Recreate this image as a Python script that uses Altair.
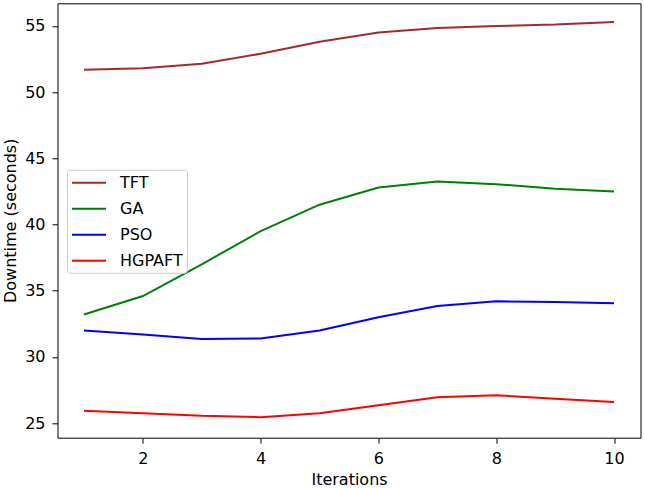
import altair as alt
import pandas as pd

# Downtime per iteration for each fault-tolerance method
iterations = [1, 2, 3, 4, 5, 6, 7, 8, 9, 10]
methods = ["TFT", "GA", "PSO", "HGPAFT"]
tft = [51.7, 51.8, 52.15, 52.9, 53.8, 54.5, 54.85, 55.0, 55.1, 55.3]
ga = [33.2, 34.6, 37.0, 39.5, 41.5, 42.8, 43.25, 43.05, 42.7, 42.5]
pso = [32.0, 31.7, 31.35, 31.4, 32.0, 33.0, 33.85, 34.2, 34.15, 34.06]
hgpaft = [25.93, 25.75, 25.55, 25.45, 25.75, 26.35, 26.95, 27.1, 26.85, 26.6]

method_colors = ["#a52a2a", "#008000", "#0000ff", "#ff0000"]
method_widths = [2.0, 2.0, 2.0, 3.3]

y_ticks = [25, 30, 35, 40, 45, 50, 55]
x_ticks = [2, 4, 6, 8, 10]

rows = []
for name, values in zip(methods, [tft, ga, pso, hgpaft]):
    for it, v in zip(iterations, values):
        rows.append({"Iteration": it, "Downtime": v, "Method": name})
df = pd.DataFrame(rows)

FONT = "DejaVu Sans"

legend = alt.Legend(
    title=None,
    orient="none",
    legendX=9.5,
    legendY=166.5,
    fillColor="rgba(255,255,255,0.8)",
    strokeColor="#cccccc",
    cornerRadius=3,
    padding=4,
    symbolType="M-2.125,0L2.125,0",
    symbolSize=256,
    symbolOffset=9,
    rowPadding=9,
    labelOffset=22,
    labelFont=FONT,
    labelFontSize=16,
    labelColor="#000000",
)

chart = (
    alt.Chart(df)
    .mark_line()
    .encode(
        x=alt.X(
            "Iteration:Q",
            scale=alt.Scale(domain=[0.55, 10.45], nice=False, zero=False),
            axis=alt.Axis(
                values=x_ticks,
                title="Iterations",
                titleX=291.5,
                titleY=46.5,
                titleAlign="center",
                titleBaseline="alphabetic",
            ),
        ),
        y=alt.Y(
            "Downtime:Q",
            scale=alt.Scale(domain=[23.9, 56.71], nice=False, zero=False),
            axis=alt.Axis(
                values=y_ticks,
                title="Downtime (seconds)",
                titleX=-47.5,
                titleY=217,
                titleAngle=270,
                titleAlign="center",
                titleBaseline="middle",
            ),
        ),
        color=alt.Color(
            "Method:N",
            scale=alt.Scale(domain=methods, range=method_colors),
            legend=legend,
        ),
        strokeWidth=alt.StrokeWidth(
            "Method:N",
            scale=alt.Scale(domain=methods, range=method_widths),
            legend=legend,
        ),
    )
    .properties(
        width=583,
        height=434.4,
        autosize=alt.AutoSizeParams(type="none"),
        padding={"left": 57.5, "top": 3.3, "right": 4.5, "bottom": 50.3},
        background="white",
    )
    .configure_view(stroke="#000000", strokeWidth=1)
    .configure_axis(
        domain=False,
        grid=False,
        ticks=True,
        tickColor="#000000",
        tickWidth=1,
        tickSize=5.5,
        labelPadding=7,
        labelFont=FONT,
        labelFontSize=16,
        labelColor="#000000",
        titleFont=FONT,
        titleFontSize=16,
        titleFontWeight="normal",
        titleColor="#000000",
    )
)

chart.save("out.html", embed_options={"renderer": "svg", "actions": False})
